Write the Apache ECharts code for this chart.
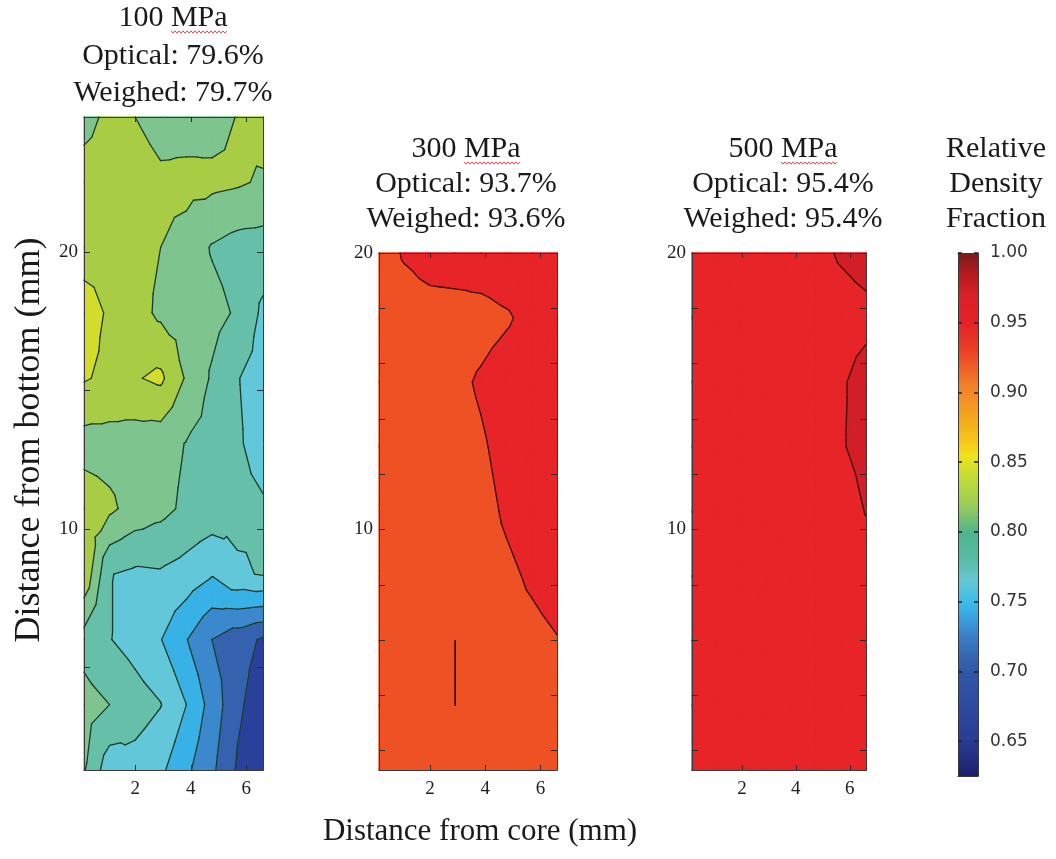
<!DOCTYPE html>
<html>
<head>
<meta charset="utf-8">
<script src="https://cdn.jsdelivr.net/npm/echarts@6/dist/echarts.min.js"></script>
<style>
html,body{margin:0;padding:0;background:#ffffff;}
#chart{width:1056px;height:859px;}
</style>
</head>
<body>
<div id="chart"></div>
<script>
// ---------------- data ----------------
// contour levels (relative density fraction) and band fill colours
const levels = [0.625, 0.65, 0.675, 0.70, 0.725, 0.75, 0.775, 0.80, 0.825, 0.85, 0.875, 0.90, 0.925, 0.95, 0.975, 1.00];
const bandColors = ['#1f2a7c', '#2a419c', '#3562ae', '#3b88cd', '#37b1e6', '#63c7da', '#66c0a9', '#7dc48e',
                    '#a8cd45', '#d3dc2b', '#f5b41c', '#f2862a', '#ee5124', '#e72428', '#d21e26'];

// measurement grid (mm)
const xNodes = [0.15, 1.07, 1.99, 2.91, 3.84, 4.76, 5.68, 6.6];
const yNodes100 = [1.3, 3.66, 6.01, 8.37, 10.73, 13.09, 15.44, 17.8, 20.16, 22.51, 24.87];
const yNodes300 = [1.3, 3.64, 5.975, 8.31, 10.65, 12.99, 15.325, 17.66, 20.0];
const yNodes500 = [1.3, 3.64, 5.975, 8.31, 10.65, 12.99, 15.325, 17.66, 20.0];

// relative density, rows from bottom to top, columns from core outwards
const density100 = [
  [0.802, 0.760, 0.765, 0.755, 0.730, 0.705, 0.672, 0.655],
  [0.810, 0.800, 0.787, 0.776, 0.750, 0.715, 0.680, 0.660],
  [0.790, 0.776, 0.765, 0.751, 0.726, 0.700, 0.685, 0.672],
  [0.845, 0.776, 0.770, 0.772, 0.765, 0.752, 0.771, 0.777],
  [0.840, 0.830, 0.815, 0.807, 0.795, 0.790, 0.782, 0.778],
  [0.815, 0.815, 0.812, 0.810, 0.799, 0.790, 0.778, 0.765],
  [0.852, 0.845, 0.848, 0.855, 0.822, 0.797, 0.776, 0.765],
  [0.860, 0.847, 0.835, 0.820, 0.813, 0.808, 0.797, 0.770],
  [0.840, 0.842, 0.834, 0.825, 0.816, 0.798, 0.790, 0.789],
  [0.838, 0.840, 0.838, 0.830, 0.832, 0.831, 0.828, 0.822],
  [0.815, 0.832, 0.825, 0.815, 0.814, 0.815, 0.826, 0.836]
];
const density300 = [
  [0.935, 0.936, 0.938, 0.940, 0.940, 0.941, 0.942, 0.943],
  [0.936, 0.937, 0.940, 0.950, 0.942, 0.943, 0.944, 0.945],
  [0.936, 0.937, 0.940, 0.950, 0.942, 0.944, 0.946, 0.9494],
  [0.936, 0.936, 0.938, 0.940, 0.943, 0.947, 0.952, 0.956],
  [0.937, 0.937, 0.939, 0.941, 0.945, 0.952, 0.957, 0.958],
  [0.937, 0.938, 0.940, 0.943, 0.948, 0.955, 0.958, 0.960],
  [0.938, 0.940, 0.943, 0.946, 0.952, 0.958, 0.960, 0.962],
  [0.940, 0.940, 0.942, 0.942, 0.944, 0.948, 0.955, 0.958],
  [0.940, 0.952, 0.958, 0.960, 0.960, 0.962, 0.962, 0.962]
];
const density500 = [
  [0.952, 0.953, 0.953, 0.954, 0.954, 0.955, 0.955, 0.956],
  [0.952, 0.953, 0.954, 0.954, 0.955, 0.955, 0.956, 0.957],
  [0.953, 0.953, 0.954, 0.955, 0.955, 0.956, 0.957, 0.958],
  [0.953, 0.954, 0.954, 0.955, 0.956, 0.957, 0.958, 0.962],
  [0.953, 0.954, 0.955, 0.955, 0.956, 0.958, 0.962, 0.976],
  [0.954, 0.954, 0.955, 0.956, 0.957, 0.960, 0.973, 0.983],
  [0.954, 0.955, 0.955, 0.956, 0.958, 0.962, 0.972, 0.985],
  [0.954, 0.955, 0.956, 0.957, 0.958, 0.962, 0.964, 0.968],
  [0.955, 0.955, 0.956, 0.957, 0.960, 0.968, 0.978, 0.985]
];

// panel texts
const pressures = ['100', '300', '500'];
const optical = ['79.6%', '93.7%', '95.4%'];
const weighed = ['79.7%', '93.6%', '95.4%'];
const colorbarTitle = ['Relative', 'Density', 'Fraction'];
const xTickValues = [2, 4, 6];
const yTicks100 = [5, 10, 15, 20];
const yTicksOther = [2, 4, 6, 8, 10, 12, 14, 16, 18, 20];
const yLabelValues = [10, 20];
const cbarLabelValues = [0.65, 0.70, 0.75, 0.80, 0.85, 0.90, 0.95, 1.00];
// colour bar gradient stops
const cbarValues = [1.00, 0.985, 0.97, 0.95, 0.93, 0.905, 0.885, 0.865, 0.855, 0.84, 0.82, 0.805, 0.80, 0.78, 0.765, 0.75, 0.74, 0.725, 0.71, 0.70, 0.675, 0.65, 0.625];
const cbarColors = ['#7a1a1a', '#b31b1f', '#d92027', '#e42228', '#ec4024', '#f2802a', '#f5a11e', '#f6c61a', '#efe31b', '#c5dc35', '#9ccd55', '#66bb80', '#4db48e', '#57bca5', '#66c8d5', '#3dbde9', '#37a6e2', '#3b7ec6', '#3465b1', '#2f57a7', '#2d4ba0', '#283c95', '#1d1f6c'];

// ---------------- helpers ----------------
const SERIF = '"Liberation Serif","DejaVu Serif",serif';
const SANS = '"DejaVu Sans","Liberation Sans",sans-serif';
const TITLE_FONT = '30px ' + SERIF;

function clipPoly(poly, L, keepAbove) {
  const out = [];
  for (let k = 0; k < poly.length; k++) {
    const a = poly[k], b = poly[(k + 1) % poly.length];
    const ain = keepAbove ? a[2] >= L : a[2] <= L;
    const bin = keepAbove ? b[2] >= L : b[2] <= L;
    if (ain) out.push(a);
    if (ain !== bin) {
      const t = (L - a[2]) / (b[2] - a[2]);
      out.push([a[0] + t * (b[0] - a[0]), a[1] + t * (b[1] - a[1]), L]);
    }
  }
  return out;
}
function polyArea(pts) {
  let s = 0;
  for (let k = 0; k < pts.length; k++) {
    const a = pts[k], b = pts[(k + 1) % pts.length];
    s += a[0] * b[1] - b[0] * a[1];
  }
  return Math.abs(s) / 2;
}
function cellTris(xs, ys, v, i, j) {
  const a = [xs[i], ys[j], v[j][i]];
  const b = [xs[i + 1], ys[j], v[j][i + 1]];
  const c = [xs[i + 1], ys[j + 1], v[j + 1][i + 1]];
  const d = [xs[i], ys[j + 1], v[j + 1][i]];
  const m = [(xs[i] + xs[i + 1]) / 2, (ys[j] + ys[j + 1]) / 2, (a[2] + b[2] + c[2] + d[2]) / 4];
  return [[a, b, m], [b, c, m], [c, d, m], [d, a, m]];
}
function isoSeg(tri, L) {
  const pts = [];
  for (let k = 0; k < 3; k++) {
    const a = tri[k], b = tri[(k + 1) % 3];
    const sa = a[2] - L, sb = b[2] - L;
    if (sa === 0) pts.push([a[0], a[1]]);
    else if (sa * sb < 0) {
      const t = sa / (sa - sb);
      pts.push([a[0] + t * (b[0] - a[0]), a[1] + t * (b[1] - a[1])]);
    }
  }
  return pts.length === 2 ? pts : null;
}
function cellData(xs, ys) {
  const d = [];
  for (let j = 0; j < ys.length - 1; j++)
    for (let i = 0; i < xs.length - 1; i++) d.push([xs[i], ys[j], i, j]);
  return d;
}
function fillSeries(gi, xs, ys, v) {
  return {
    type: 'custom', xAxisIndex: gi * 2, yAxisIndex: gi * 2, data: cellData(xs, ys),
    encode: { x: 0, y: 1 }, silent: true, animation: false, z: 2,
    renderItem: function (params, api) {
      const i = api.value(2), j = api.value(3);
      const children = [];
      cellTris(xs, ys, v, i, j).forEach(function (tri) {
        const vals = tri.map(p => p[2]);
        const fmin = Math.min.apply(null, vals), fmax = Math.max.apply(null, vals);
        for (let k = 0; k < bandColors.length; k++) {
          const lo = levels[k], hi = levels[k + 1];
          if (fmax < lo || fmin > hi) continue;
          let poly = clipPoly(tri, lo, true);
          if (poly.length < 3) continue;
          poly = clipPoly(poly, hi, false);
          if (poly.length < 3) continue;
          const pts = poly.map(p => api.coord([p[0], p[1]]));
          if (polyArea(pts) < 0.05) continue;
          children.push({ type: 'polygon', shape: { points: pts },
            style: { fill: bandColors[k], stroke: bandColors[k], lineWidth: 1.3, lineJoin: 'round' } });
        }
      });
      return { type: 'group', children: children };
    }
  };
}
function lineSeries(gi, xs, ys, v, color) {
  return {
    type: 'custom', xAxisIndex: gi * 2, yAxisIndex: gi * 2, data: cellData(xs, ys),
    encode: { x: 0, y: 1 }, silent: true, animation: false, z: 3,
    renderItem: function (params, api) {
      const i = api.value(2), j = api.value(3);
      const children = [];
      cellTris(xs, ys, v, i, j).forEach(function (tri) {
        for (let k = 1; k < levels.length - 1; k++) {
          const seg = isoSeg(tri, levels[k]);
          if (!seg) continue;
          const p1 = api.coord(seg[0]), p2 = api.coord(seg[1]);
          children.push({ type: 'line', shape: { x1: p1[0], y1: p1[1], x2: p2[0], y2: p2[1] },
            style: { stroke: color, lineWidth: 1.3, lineCap: 'round' } });
        }
      });
      return { type: 'group', children: children };
    }
  };
}
const measureCtx = document.createElement('canvas').getContext('2d');
function textWidth(t, font) { measureCtx.font = font; return measureCtx.measureText(t).width; }

// ---------------- layout ----------------
const panels = [
  { xs: xNodes, ys: yNodes100, v: density100, yMax: 24.87, yTicks: yTicks100, line: '#1b3a2b',
    grid: { left: 84, top: 117, width: 179, height: 653 }, cx: 173, ty: [18, 56, 93] },
  { xs: xNodes, ys: yNodes300, v: density300, yMax: 20, yTicks: yTicksOther, line: '#3a1010',
    grid: { left: 379, top: 253, width: 178, height: 517 }, cx: 466, ty: [149, 184, 219] },
  { xs: xNodes, ys: yNodes500, v: density500, yMax: 20, yTicks: yTicksOther, line: '#3a1010',
    grid: { left: 692, top: 253, width: 174, height: 517 }, cx: 783, ty: [149, 184, 219] }
];

const grids = [], xAxes = [], yAxes = [], series = [], graphics = [];
const axisLineStyle = { color: '#3a3a3a', width: 1 };
const tickStyle = { color: '#2a2a2a', width: 1 };
const labelStyle = { color: '#222', fontFamily: SERIF, fontSize: 19 };

function textEl(t, x, y, font, extra) {
  return Object.assign({ type: 'text', x: x, y: y, silent: true,
    style: { text: t, fill: '#1a1a1a', font: font, align: 'center', verticalAlign: 'middle',
      textAlign: 'center', textVerticalAlign: 'middle' } }, extra || {});
}

panels.forEach(function (p, gi) {
  grids.push(Object.assign({ containLabel: false }, p.grid));
  const xMin = xNodes[0], xMax = xNodes[xNodes.length - 1];
  const yMin = p.ys[0];
  const base = { gridIndex: gi, type: 'value', z: 10, splitLine: { show: false },
    axisLine: { show: true, onZero: false, lineStyle: axisLineStyle } };
  xAxes.push(Object.assign({}, base, { position: 'bottom', min: xMin, max: xMax,
    axisTick: { show: true, inside: true, length: 5, customValues: xTickValues, lineStyle: tickStyle },
    axisLabel: Object.assign({ show: true, customValues: xTickValues, margin: 10 }, labelStyle) }));
  xAxes.push(Object.assign({}, base, { position: 'top', min: xMin, max: xMax,
    axisTick: { show: true, inside: true, length: 5, customValues: xTickValues, lineStyle: tickStyle },
    axisLabel: { show: false } }));
  yAxes.push(Object.assign({}, base, { position: 'left', min: yMin, max: p.yMax,
    axisTick: { show: true, inside: true, length: 6, customValues: p.yTicks, lineStyle: tickStyle },
    axisLabel: Object.assign({ show: true, customValues: yLabelValues, margin: 6 }, labelStyle) }));
  yAxes.push(Object.assign({}, base, { position: 'right', min: yMin, max: p.yMax,
    axisTick: { show: true, inside: true, length: 6, customValues: p.yTicks, lineStyle: tickStyle },
    axisLabel: { show: false } }));
  series.push(fillSeries(gi, p.xs, p.ys, p.v));
  series.push(lineSeries(gi, p.xs, p.ys, p.v, p.line));

  const head = pressures[gi] + ' MPa';
  const lines = [head, 'Optical: ' + optical[gi], 'Weighed: ' + weighed[gi]];
  lines.forEach(function (t, k) { graphics.push(textEl(t, p.cx, p.ty[k], TITLE_FONT)); });
  // red spell-check squiggle under "MPa"
  const wAll = textWidth(head, TITLE_FONT), wNum = textWidth(pressures[gi] + ' ', TITLE_FONT);
  const x0 = p.cx - wAll / 2 + wNum, x1 = p.cx + wAll / 2;
  const yq = p.ty[0] + 14;
  const pts = [];
  for (let x = x0, k = 0; x <= x1; x += 2, k++) pts.push([x, yq + (k % 2 ? 1.2 : -1.2)]);
  graphics.push({ type: 'polyline', silent: true, shape: { points: pts },
    style: { stroke: '#e0504a', lineWidth: 1, fill: null } });
});

// colour bar
const cbGrid = grids.length;
grids.push({ left: 958, top: 253, width: 20, height: 523 });
const cbMin = levels[0], cbMax = levels[levels.length - 1];
xAxes.push({ gridIndex: cbGrid, type: 'value', min: 0, max: 1, position: 'bottom', z: 10,
  axisLine: { show: true, onZero: false, lineStyle: axisLineStyle }, axisTick: { show: false }, axisLabel: { show: false }, splitLine: { show: false } });
xAxes.push({ gridIndex: cbGrid, type: 'value', min: 0, max: 1, position: 'top', z: 10,
  axisLine: { show: true, onZero: false, lineStyle: axisLineStyle }, axisTick: { show: false }, axisLabel: { show: false }, splitLine: { show: false } });
yAxes.push({ gridIndex: cbGrid, type: 'value', min: cbMin, max: cbMax, position: 'right', z: 10,
  axisLine: { show: true, onZero: false, lineStyle: axisLineStyle },
  axisTick: { show: true, inside: true, length: 4, customValues: cbarLabelValues, lineStyle: { color: '#222', width: 1.5 } },
  axisLabel: { show: true, customValues: cbarLabelValues, margin: 12, color: '#333', fontFamily: SANS, fontSize: 17,
    formatter: function (val) { return Number(val).toFixed(2); } },
  splitLine: { show: false } });
yAxes.push({ gridIndex: cbGrid, type: 'value', min: cbMin, max: cbMax, position: 'left', z: 10,
  axisLine: { show: true, onZero: false, lineStyle: axisLineStyle },
  axisTick: { show: true, inside: true, length: 4, customValues: cbarLabelValues, lineStyle: { color: '#222', width: 1.5 } },
  axisLabel: { show: false }, splitLine: { show: false } });
series.push({
  type: 'custom', xAxisIndex: cbGrid * 2, yAxisIndex: cbGrid * 2, silent: true, animation: false, z: 2,
  data: [[0, cbMin, 1, cbMax]], encode: { x: 0, y: 1 },
  renderItem: function (params, api) {
    const p0 = api.coord([api.value(0), api.value(1)]);
    const p1 = api.coord([api.value(2), api.value(3)]);
    const stops = cbarValues.map(function (val, k) {
      return { offset: (cbMax - val) / (cbMax - cbMin), color: cbarColors[k] };
    });
    return { type: 'rect', shape: { x: p0[0], y: p1[1], width: p1[0] - p0[0], height: p0[1] - p1[1] },
      style: { fill: { type: 'linear', x: 0, y: 0, x2: 0, y2: 1, colorStops: stops } } };
  }
});
colorbarTitle.forEach(function (t, k) {
  graphics.push(textEl(t, 996, [149, 184, 219][k], TITLE_FONT));
});

// axis titles
graphics.push(textEl('Distance from core (mm)', 480, 832, '31px ' + SERIF));
graphics.push(textEl('Distance from bottom (mm)', 30, 440, '36px ' + SERIF, { rotation: Math.PI / 2 }));

const chart = echarts.init(document.getElementById('chart'), null, { renderer: 'canvas' });
chart.setOption({
  backgroundColor: '#ffffff',
  animation: false,
  grid: grids,
  xAxis: xAxes,
  yAxis: yAxes,
  series: series,
  graphic: { elements: graphics }
});
</script>
</body>
</html>
